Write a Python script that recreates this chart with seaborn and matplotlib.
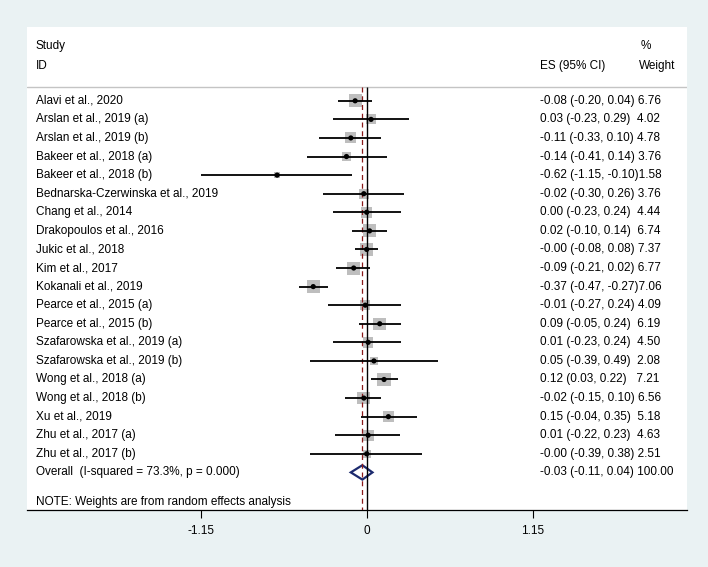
import matplotlib
matplotlib.use("Agg")
import matplotlib.pyplot as plt
import seaborn as sns
import pandas as pd
import numpy as np
from matplotlib import transforms

# ---------------- data ----------------
studies = ["Alavi et al., 2020", "Arslan et al., 2019 (a)", "Arslan et al., 2019 (b)",
           "Bakeer et al., 2018 (a)", "Bakeer et al., 2018 (b)",
           "Bednarska-Czerwinska et al., 2019", "Chang et al., 2014",
           "Drakopoulos et al., 2016", "Jukic et al., 2018", "Kim et al., 2017",
           "Kokanali et al., 2019", "Pearce et al., 2015 (a)", "Pearce et al., 2015 (b)",
           "Szafarowska et al., 2019 (a)", "Szafarowska et al., 2019 (b)",
           "Wong et al., 2018 (a)", "Wong et al., 2018 (b)", "Xu et al., 2019",
           "Zhu et al., 2017 (a)", "Zhu et al., 2017 (b)"]
es = [-0.08, 0.03, -0.11, -0.14, -0.62, -0.02, 0.00, 0.02, -0.00, -0.09,
      -0.37, -0.01, 0.09, 0.01, 0.05, 0.12, -0.02, 0.15, 0.01, -0.00]
ci_lo = [-0.20, -0.23, -0.33, -0.41, -1.15, -0.30, -0.23, -0.10, -0.08, -0.21,
         -0.47, -0.27, -0.05, -0.23, -0.39, 0.03, -0.15, -0.04, -0.22, -0.39]
ci_hi = [0.04, 0.29, 0.10, 0.14, -0.10, 0.26, 0.24, 0.14, 0.08, 0.02,
         -0.27, 0.24, 0.24, 0.24, 0.49, 0.22, 0.10, 0.35, 0.23, 0.38]
weights = [6.76, 4.02, 4.78, 3.76, 1.58, 3.76, 4.44, 6.74, 7.37, 6.77,
           7.06, 4.09, 6.19, 4.50, 2.08, 7.21, 6.56, 5.18, 4.63, 2.51]
es_text = ["-0.08", "0.03", "-0.11", "-0.14", "-0.62", "-0.02", "0.00", "0.02", "-0.00", "-0.09",
           "-0.37", "-0.01", "0.09", "0.01", "0.05", "0.12", "-0.02", "0.15", "0.01", "-0.00"]
lo_text = ["-0.20", "-0.23", "-0.33", "-0.41", "-1.15", "-0.30", "-0.23", "-0.10", "-0.08", "-0.21",
           "-0.47", "-0.27", "-0.05", "-0.23", "-0.39", "0.03", "-0.15", "-0.04", "-0.22", "-0.39"]
hi_text = ["0.04", "0.29", "0.10", "0.14", "-0.10", "0.26", "0.24", "0.14", "0.08", "0.02",
           "-0.27", "0.24", "0.24", "0.24", "0.49", "0.22", "0.10", "0.35", "0.23", "0.38"]
weight_text = ["6.76", "4.02", "4.78", "3.76", "1.58", "3.76", "4.44", "6.74", "7.37", "6.77",
               "7.06", "4.09", "6.19", "4.50", "2.08", "7.21", "6.56", "5.18", "4.63", "2.51"]

overall_label = "Overall  (I-squared = 73.3%, p = 0.000)"
overall_es, overall_lo, overall_hi = -0.03, -0.11, 0.04
overall_text = "-0.03 (-0.11, 0.04) 100.00"
note_text = "NOTE: Weights are from random effects analysis"
xticks = [-1.15, 0, 1.15]
xtick_labels = ["-1.15", "0", "1.15"]

# ---------------- style ----------------
sns.set_theme(style="white")
plt.rcParams["font.family"] = ["Liberation Sans", "DejaVu Sans"]
FS = 8.5

W, H = 708, 567
fig = plt.figure(figsize=(W / 100, H / 100), dpi=100, facecolor="#EAF2F3")
L, R, T, B = 27, 687, 27, 510
ax = fig.add_axes([L / W, 1 - B / H, (R - L) / W, (B - T) / H])
ax.set_facecolor("white")

x0px, kx = 366.7, 144.5
y0px, dy = 100.8, 18.58

n = len(studies)
df = pd.DataFrame({"study": studies, "es": es, "lo": ci_lo, "hi": ci_hi,
                   "w": weights, "row": np.arange(n)})
df["area"] = 13.0 * df["w"]

sep_r = (87 - y0px) / dy
bottom_r = (B - y0px) / dy
top_r = (T - y0px) / dy

# squares
sns.scatterplot(data=df, x="es", y="row", size="area",
                sizes=(df["area"].min(), df["area"].max()),
                size_norm=(df["area"].min(), df["area"].max()),
                marker="s", color="#BEBEBE", edgecolor="none", linewidth=0,
                legend=False, ax=ax, zorder=2)
# CI lines
ax.hlines(df["row"], df["lo"], df["hi"], color="black", lw=1.3, zorder=3)
# point estimates
sns.scatterplot(data=df, x="es", y="row", marker="o", s=14, color="black",
                edgecolor="none", linewidth=0, legend=False, ax=ax, zorder=4)

# overall diamond
orow = n
hh = 7.2 / dy
ax.fill([overall_lo, overall_es, overall_hi, overall_es],
        [orow, orow - hh, orow, orow + hh],
        facecolor="white", edgecolor="#1C2A6E", lw=1.6, zorder=2.2)

# reference lines
ax.vlines(0, sep_r, bottom_r, color="black", lw=1.0, zorder=2.6)
ax.vlines(overall_es, sep_r, bottom_r, color="#8B1A1A", lw=0.9,
          linestyles=(0, (4, 3)), zorder=2.7)
ax.axhline(sep_r, color="#C4C4C4", lw=1.0, zorder=1)

ax.set_xlim((L - x0px) / kx, (R - x0px) / kx)
ax.set_ylim(bottom_r, top_r)
ax.set_xlabel("")
ax.set_ylabel("")
ax.set_yticks([])
ax.set_xticks(xticks)
ax.set_xticklabels(xtick_labels, fontsize=FS)
ax.tick_params(axis="x", bottom=True, direction="out", length=6, width=0.8,
               color="black", pad=5, labelcolor="black")
for s in ["left", "top", "right"]:
    ax.spines[s].set_visible(False)
ax.spines["bottom"].set_color("black")
ax.spines["bottom"].set_linewidth(0.9)

trans = transforms.blended_transform_factory(fig.transFigure, ax.transData)
txt = dict(fontsize=FS, color="black", transform=trans, va="center", ha="left")

def ypx(p):
    return (p - y0px) / dy

x_left, x_es, x_w = 36 / W, 540 / W, 639 / W
ax.text(x_left, ypx(46), "Study", **txt)
ax.text(x_left, ypx(66), "ID", **txt)
ax.text(x_es, ypx(66), "ES (95% CI)", **txt)
ax.text(x_w, ypx(66), "Weight", **txt)
ax.text(641 / W, ypx(46), "%", **txt)

for i in range(n):
    ax.text(x_left, i, studies[i], **txt)
    ci = f"{es_text[i]} ({lo_text[i]}, {hi_text[i]})"
    ax.text(x_es, i, ci.ljust(20) + weight_text[i], **txt)

ax.text(x_left, orow, overall_label, **txt)
ax.text(x_es, orow, overall_text, **txt)
ax.text(x_left, ypx(502), note_text, **txt)

fig.savefig("out.png", dpi=100, facecolor=fig.get_facecolor())
